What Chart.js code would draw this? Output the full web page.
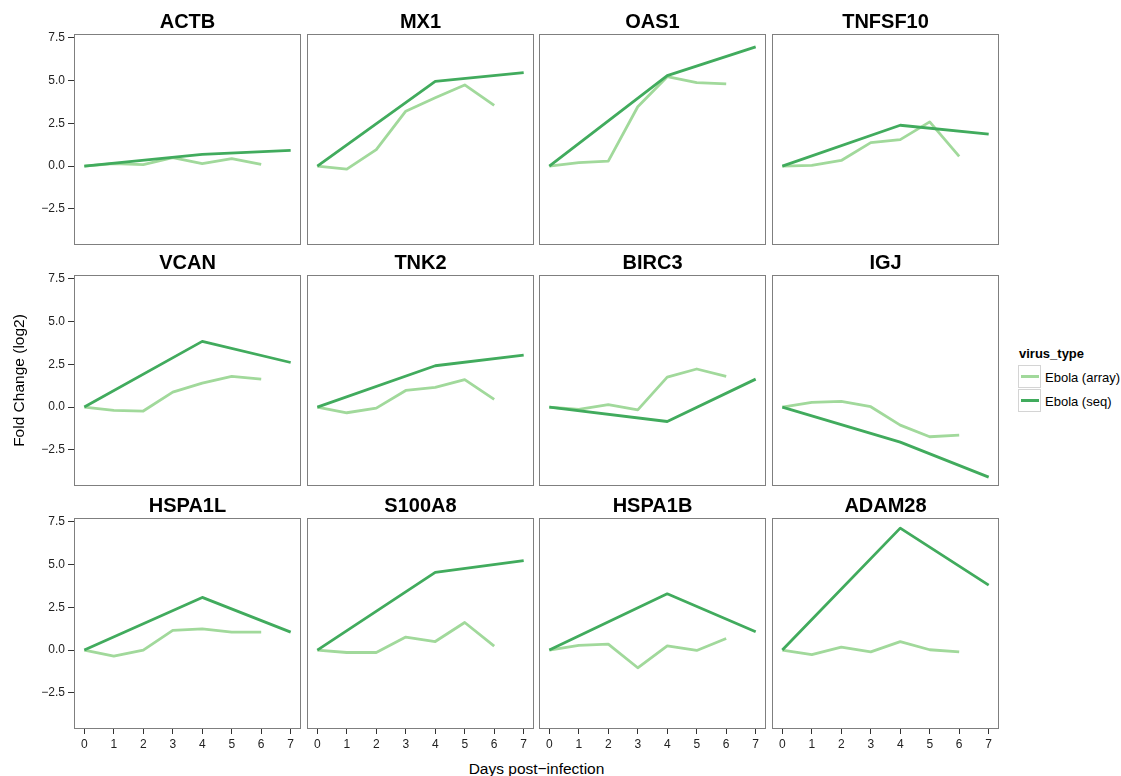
<!DOCTYPE html>
<html lang="en">
<head>
<meta charset="UTF-8">
<title>Fold Change by gene</title>
<script src="https://cdn.jsdelivr.net/npm/chart.js"></script>
<style>
    body { margin: 0; background: #fff; font-family: "Liberation Sans", Arial, Helvetica, sans-serif; }
    #wrap { position: relative; width: 1121px; height: 776px; overflow: hidden; }
    #wrap canvas { position: absolute; }
    .txt { position: absolute; white-space: nowrap; line-height: 1; color: #000; }
    .key { position: absolute; width: 21px; height: 21px; border: 1px solid #d4d4d4; background: #fff; }
    .key span { position: absolute; left: 2px; top: 9px; width: 18px; height: 3px; }
</style>
</head>
<body>
<div id="wrap">
    <div class="txt" style="left:0;width:1073px;top:761px;text-align:center;font-size:15.5px;">Days post&minus;infection</div>
    <div class="txt" style="left:1019px;top:347px;font-size:13px;font-weight:bold;">virus_type</div>
    <div class="key" style="left:1018px;top:365px;"><span style="background:#a1d99b"></span></div>
    <div class="key" style="left:1018px;top:389px;"><span style="background:#41ab5d"></span></div>
    <div class="txt" style="left:1045px;top:371px;font-size:13px;">Ebola (array)</div>
    <div class="txt" style="left:1045px;top:395px;font-size:13px;">Ebola (seq)</div>
</div>

<script>
    // days post-infection, x ticks and y ticks
    const days = [0, 1, 2, 3, 4, 5, 6, 7];
    const xTicks = [0, 1, 2, 3, 4, 5, 6, 7];
    const yTicks = [-2.5, 0, 2.5, 5, 7.5];
    const genes = ['ACTB', 'MX1', 'OAS1', 'TNFSF10', 'VCAN', 'TNK2', 'BIRC3', 'IGJ', 'HSPA1L', 'S100A8', 'HSPA1B', 'ADAM28'];

    // Ebola (array): days 0-6, Ebola (seq): days 0, 4, 7
    const ACTB_array    = [0, 0.14, 0.08, 0.49, 0.14, 0.43, 0.10, null];
    const ACTB_seq      = [0, null, null, null, 0.68, null, null, 0.92];
    const MX1_array     = [0, -0.18, 0.96, 3.20, 3.98, 4.73, 3.54, null];
    const MX1_seq       = [0, null, null, null, 4.94, null, null, 5.45];
    const OAS1_array    = [0, 0.20, 0.29, 3.46, 5.21, 4.86, 4.79, null];
    const OAS1_seq      = [0, null, null, null, 5.27, null, null, 6.95];
    const TNFSF10_array = [0, 0.04, 0.33, 1.37, 1.54, 2.58, 0.57, null];
    const TNFSF10_seq   = [0, null, null, null, 2.38, null, null, 1.86];
    const VCAN_array    = [0, -0.19, -0.23, 0.87, 1.40, 1.79, 1.63, null];
    const VCAN_seq      = [0, null, null, null, 3.83, null, null, 2.60];
    const TNK2_array    = [0, -0.33, -0.06, 0.97, 1.15, 1.60, 0.45, null];
    const TNK2_seq      = [0, null, null, null, 2.41, null, null, 3.03];
    const BIRC3_array   = [0, -0.14, 0.14, -0.16, 1.75, 2.22, 1.79, null];
    const BIRC3_seq     = [0, null, null, null, -0.84, null, null, 1.63];
    const IGJ_array     = [0, 0.27, 0.33, 0.02, -1.05, -1.73, -1.63, null];
    const IGJ_seq       = [0, null, null, null, -2.04, null, null, -4.08];
    const HSPA1L_array  = [0, -0.35, 0, 1.15, 1.24, 1.05, 1.05, null];
    const HSPA1L_seq    = [0, null, null, null, 3.07, null, null, 1.05];
    const S100A8_array  = [0, -0.14, -0.14, 0.76, 0.50, 1.61, 0.23, null];
    const S100A8_seq    = [0, null, null, null, 4.53, null, null, 5.21];
    const HSPA1B_array  = [0, 0.27, 0.35, -1.03, 0.25, -0.02, 0.68, null];
    const HSPA1B_seq    = [0, null, null, null, 3.28, null, null, 1.07];
    const ADAM28_array  = [0, -0.27, 0.17, -0.10, 0.49, 0.02, -0.10, null];
    const ADAM28_seq    = [0, null, null, null, 7.11, null, null, 3.79];

    const series = {
        ACTB: [ACTB_array, ACTB_seq], MX1: [MX1_array, MX1_seq], OAS1: [OAS1_array, OAS1_seq],
        TNFSF10: [TNFSF10_array, TNFSF10_seq], VCAN: [VCAN_array, VCAN_seq], TNK2: [TNK2_array, TNK2_seq],
        BIRC3: [BIRC3_array, BIRC3_seq], IGJ: [IGJ_array, IGJ_seq], HSPA1L: [HSPA1L_array, HSPA1L_seq],
        S100A8: [S100A8_array, S100A8_seq], HSPA1B: [HSPA1B_array, HSPA1B_seq], ADAM28: [ADAM28_array, ADAM28_seq]
    };

    // layout
    const PANEL_W = 227, PANEL_H = 211, TITLE_H = 34, YAXIS_W = 74, XAXIS_H = 30;
    const panelLefts = [74, 307, 539, 772];
    const panelTops = [34, 275, 518];

    Chart.defaults.font.family = '"Liberation Sans", Arial, Helvetica, sans-serif';
    Chart.defaults.color = '#222';

    // grey box round each panel
    const panelBorder = {
        id: 'panelBorder',
        afterDatasetsDraw(chart) {
            const a = chart.chartArea, ctx = chart.ctx;
            ctx.save();
            ctx.strokeStyle = '#7f7f7f';
            ctx.lineWidth = 1;
            ctx.strokeRect(Math.round(a.left) + 0.5, Math.round(a.top) + 0.5,
                Math.round(a.right - a.left) - 1, Math.round(a.bottom - a.top) - 1);
            ctx.restore();
        }
    };

    function points(values) {
        return days.map((d, i) => ({ x: d, y: values[i] })).filter(p => p.y !== null);
    }

    function fmt(v) {
        return (v < 0 ? '\u2212' : '') + Math.abs(v).toFixed(1);
    }

    const wrap = document.getElementById('wrap');

    genes.forEach((gene, i) => {
        const row = Math.floor(i / 4), col = i % 4;
        const isLeft = col === 0, isBottom = row === 2;
        const cw = PANEL_W + (isLeft ? YAXIS_W : 0);
        const ch = TITLE_H + PANEL_H + (isBottom ? XAXIS_H : 0);

        const canvas = document.createElement('canvas');
        canvas.width = cw;
        canvas.height = ch;
        canvas.style.width = cw + 'px';
        canvas.style.height = ch + 'px';
        canvas.style.left = (panelLefts[col] - (isLeft ? YAXIS_W : 0)) + 'px';
        canvas.style.top = (panelTops[row] - TITLE_H) + 'px';
        wrap.appendChild(canvas);

        const [arr, seq] = series[gene];

        new Chart(canvas.getContext('2d'), {
            type: 'line',
            data: {
                datasets: [
                    {
                        label: 'Ebola (array)',
                        data: points(arr),
                        borderColor: '#a1d99b',
                        borderWidth: 2.8,
                        pointRadius: 0,
                        borderJoinStyle: 'round',
                        order: 1
                    },
                    {
                        label: 'Ebola (seq)',
                        data: points(seq),
                        borderColor: '#41ab5d',
                        borderWidth: 2.8,
                        pointRadius: 0,
                        borderJoinStyle: 'round',
                        order: 0
                    }
                ]
            },
            options: {
                responsive: false,
                animation: false,
                events: [],
                layout: { padding: 0 },
                plugins: {
                    legend: { display: false },
                    tooltip: { enabled: false },
                    title: {
                        display: true,
                        fullSize: false,
                        text: gene,
                        color: '#000',
                        font: { size: 20, weight: 'bold', lineHeight: 1.2 },
                        padding: { top: 10, bottom: 0 }
                    }
                },
                scales: {
                    x: {
                        type: 'linear',
                        min: -0.35,
                        max: 7.35,
                        display: isBottom,
                        afterBuildTicks: s => { s.ticks = xTicks.map(v => ({ value: v })); },
                        afterFit: s => {
                            if (isBottom) s.height = XAXIS_H;
                            s.paddingLeft = 0; s.paddingRight = 0;
                        },
                        grid: { drawOnChartArea: false, tickLength: 5, color: '#333' },
                        border: { display: false },
                        ticks: { font: { size: 12 }, color: '#222', padding: 3, maxRotation: 0, autoSkip: false }
                    },
                    y: {
                        min: -4.6,
                        max: 7.7,
                        display: isLeft,
                        afterBuildTicks: s => { s.ticks = yTicks.map(v => ({ value: v })); },
                        afterFit: s => {
                            if (isLeft) s.width = YAXIS_W;
                            s.paddingTop = 0; s.paddingBottom = 0;
                        },
                        grid: { drawOnChartArea: false, tickLength: 6, color: '#333' },
                        border: { display: false },
                        ticks: { font: { size: 12 }, color: '#222', padding: 3, callback: v => fmt(v) },
                        title: {
                            display: gene === 'VCAN',
                            text: 'Fold Change (log2)',
                            color: '#000',
                            font: { size: 15.5 },
                            padding: { top: 10, bottom: 0 }
                        }
                    }
                }
            },
            plugins: [panelBorder]
        });
    });
</script>
</body>
</html>
